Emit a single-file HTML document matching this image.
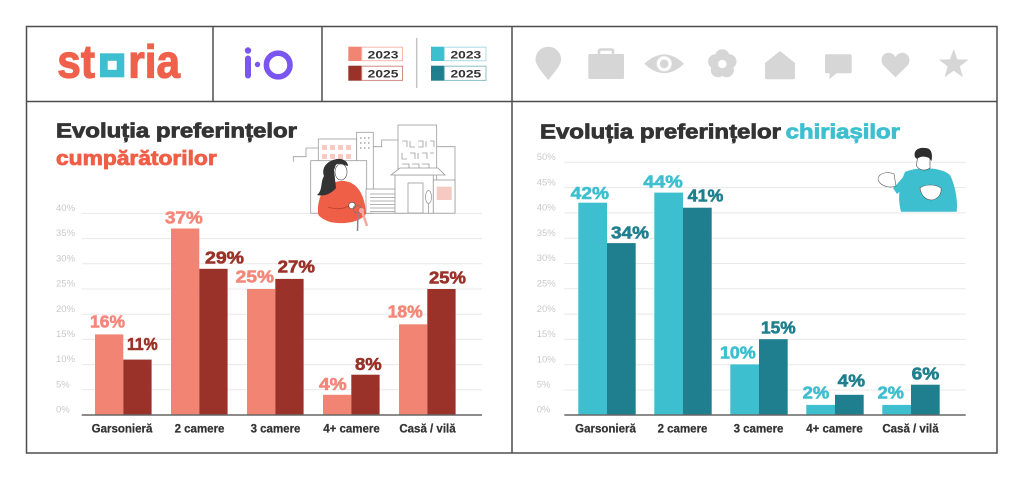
<!DOCTYPE html>
<html>
<head>
<meta charset="utf-8">
<style>
html,body{margin:0;padding:0;background:#fff;}
svg{display:block;}
text{font-family:"Liberation Sans",Arial,sans-serif;}
.t{font-size:9.5px;fill:#c9c9c9;}
.c{font-size:11.5px;font-weight:bold;fill:#333;text-anchor:middle;stroke:#333;stroke-width:0.25;}
.v{font-size:17.5px;font-weight:bold;stroke-width:0.6;paint-order:stroke;}
.ttl{font-size:20px;font-weight:bold;stroke-width:0.8;paint-order:stroke;}
</style>
</head>
<body>
<svg width="1024" height="480" viewBox="0 0 1024 480" xmlns="http://www.w3.org/2000/svg">
<rect width="1024" height="480" fill="#fff"/>

<!-- Frame -->
<g stroke="#4d4d4d" stroke-width="1.5" fill="none">
<rect x="26.5" y="26.5" width="970.5" height="426.5"/>
<line x1="26.5" y1="101.5" x2="997" y2="101.5"/>
<line x1="213" y1="26.5" x2="213" y2="101.5"/>
<line x1="322" y1="26.5" x2="322" y2="101.5"/>
<line x1="512" y1="26.5" x2="512" y2="453"/>
</g>

<!-- storia logo -->
<text x="57.3" y="77.3" font-size="46" font-weight="bold" fill="#EF614B" stroke="#EF614B" stroke-width="1.2" textLength="37.7" lengthAdjust="spacingAndGlyphs">st</text>
<rect x="100" y="53.3" width="24.3" height="24" fill="#3EBFCF"/>
<rect x="107.7" y="60.8" width="9" height="9" fill="#fff"/>
<text x="128.3" y="77.3" font-size="46" font-weight="bold" fill="#EF614B" stroke="#EF614B" stroke-width="1.2" textLength="51.7" lengthAdjust="spacingAndGlyphs">ria</text>

<!-- i·O logo -->
<g fill="#7B55F0">
<rect x="245" y="55.5" width="6" height="23" rx="3"/>
<circle cx="248" cy="50.5" r="3.2"/>
<circle cx="257.5" cy="64.5" r="2.7"/>
</g>
<circle cx="278.2" cy="65" r="11.8" fill="none" stroke="#7B55F0" stroke-width="5.6"/>

<!-- legend -->
<rect x="348.3" y="46.7" width="13.4" height="14.3" fill="#F28473"/>
<rect x="361.7" y="47.2" width="40.8" height="13.5" fill="#fff" stroke="#F5B8AE" stroke-width="1"/>
<text x="367.7" y="58.3" font-size="11" font-weight="bold" fill="#333" textLength="30.7" lengthAdjust="spacingAndGlyphs">2023</text>
<rect x="348.3" y="65.7" width="13.4" height="15" fill="#9A3229"/>
<rect x="361.7" y="66.2" width="40.8" height="14.2" fill="#fff" stroke="#D08A82" stroke-width="1"/>
<text x="367.7" y="77.3" font-size="11" font-weight="bold" fill="#333" textLength="30.7" lengthAdjust="spacingAndGlyphs">2025</text>
<line x1="416.7" y1="38" x2="416.7" y2="88" stroke="#c4c4c4" stroke-width="1.5"/>
<rect x="431" y="46.7" width="13.4" height="14.3" fill="#3EBFCF"/>
<rect x="444.4" y="47.2" width="41.6" height="13.5" fill="#fff" stroke="#A8DDE4" stroke-width="1"/>
<text x="450.5" y="58.3" font-size="11" font-weight="bold" fill="#333" textLength="30.7" lengthAdjust="spacingAndGlyphs">2023</text>
<rect x="431" y="65.7" width="13.4" height="15" fill="#1F7F8E"/>
<rect x="444.4" y="66.2" width="41.6" height="14.2" fill="#fff" stroke="#8BBFC7" stroke-width="1"/>
<text x="450.5" y="77.3" font-size="11" font-weight="bold" fill="#333" textLength="30.7" lengthAdjust="spacingAndGlyphs">2025</text>

<!-- header icons -->
<g fill="#d6d6d6">
<path d="M548.3,80 C540,70 535.5,64 535.5,59.5 A12.8,12.8 0 1 1 561.1,59.5 C561.1,64 556.6,70 548.3,80Z"/>
<rect x="588.3" y="54" width="35.7" height="25" rx="1.5"/>
<rect x="599" y="49.5" width="14" height="6" rx="1.5" fill="none" stroke="#d6d6d6" stroke-width="2.6"/>
<path d="M644.3,63.8 Q664.2,45 684,63.8 Q664.2,82.5 644.3,63.8Z"/>
<circle cx="664.2" cy="63.8" r="7.5" fill="#fff"/>
<circle cx="664.2" cy="63.8" r="4.3"/>
<circle cx="722.3" cy="56.5" r="7.3"/>
<circle cx="729.2" cy="61.5" r="7.3"/>
<circle cx="726.6" cy="70" r="7.3"/>
<circle cx="718" cy="70" r="7.3"/>
<circle cx="715.4" cy="61.5" r="7.3"/>
<circle cx="722.3" cy="64" r="4.3" fill="#fff"/>
<path d="M780,51 L795,63 L795,77.5 Q795,79.3 793,79.3 L767,79.3 Q765,79.3 765,77.5 L765,63Z"/>
<rect x="825" y="54.3" width="26.7" height="19" rx="1.5"/>
<path d="M829.5,72 L838,72 L829.5,79.3Z"/>
<path d="M895.5,77.3 L884,66 C879,61 882,52.7 888.5,52.7 C892,52.7 894.5,55 895.5,57 C896.5,55 899,52.7 902.5,52.7 C909,52.7 912,61 907,66Z"/>
<path d="M953.7,49 L957.4,59.4 L968.6,59.6 L959.8,66.4 L962.9,77.2 L953.7,70.8 L944.5,77.2 L947.6,66.4 L938.8,59.6 L950,59.4Z"/>
</g>

<!-- LEFT titles -->
<text x="56" y="137.5" class="ttl" fill="#333" stroke="#333" textLength="241" lengthAdjust="spacingAndGlyphs">Evoluția preferințelor</text>
<text x="56" y="165" class="ttl" fill="#EF5F48" stroke="#EF5F48" textLength="160.7" lengthAdjust="spacingAndGlyphs">cumpărătorilor</text>

<!-- LEFT grid -->
<g stroke="#e8e8e8" stroke-width="1">
<line x1="81.7" y1="213.4" x2="482" y2="213.4"/>
<line x1="81.7" y1="238.6" x2="482" y2="238.6"/>
<line x1="81.7" y1="263.8" x2="482" y2="263.8"/>
<line x1="81.7" y1="289" x2="482" y2="289"/>
<line x1="81.7" y1="314.2" x2="482" y2="314.2"/>
<line x1="81.7" y1="339.4" x2="482" y2="339.4"/>
<line x1="81.7" y1="364.6" x2="482" y2="364.6"/>
<line x1="81.7" y1="389.8" x2="482" y2="389.8"/>
</g>
<g>
<text x="56" y="211" class="t">40%</text>
<text x="56" y="236.2" class="t">35%</text>
<text x="56" y="261.4" class="t">30%</text>
<text x="56" y="286.6" class="t">25%</text>
<text x="56" y="311.8" class="t">20%</text>
<text x="56" y="337" class="t">15%</text>
<text x="56" y="362.2" class="t">10%</text>
<text x="56" y="387.4" class="t">5%</text>
<text x="56" y="412.6" class="t">0%</text>
</g>

<!-- LEFT illustration -->
<g stroke="#9b9b9b" stroke-width="0.8" fill="none">
<polyline points="293.3,161.7 293.3,156.7 306,156.7 306,148 318.3,148"/>
<rect x="318.3" y="139" width="38.4" height="74" fill="#fff"/>
<rect x="356.7" y="132.3" width="16.6" height="81" fill="#fff"/>
<polyline points="373.3,146.7 381.7,146.7 381.7,140 398,140"/>
<rect x="398" y="125" width="38.7" height="88" fill="#fff"/>
<polyline points="436.7,146.7 455,146.7 455,213"/>
<path d="M402,141 h5 v6 M410,141 v6 h5 M418,141 h5 v6 h-5 M426,141 v6 M430,141 h4 v6 M402,153 v6 h5 M410,153 h5 v6 M418,153 v6 M422,153 h5 v6 M430,153 h4 M402,164 h7 v4 M412,164 h7 v4 M422,164 h7 v4"/>
</g>
<g fill="#F6C9C2">
<rect x="322" y="145" width="5" height="5"/><rect x="330" y="145" width="5" height="5"/><rect x="338" y="145" width="5" height="5"/><rect x="346" y="145" width="5" height="5"/>
<rect x="322" y="154" width="5" height="5"/><rect x="330" y="154" width="5" height="5"/><rect x="338" y="154" width="5" height="5"/><rect x="346" y="154" width="5" height="5"/>
</g>
<g fill="#bbb">
<rect x="360" y="137" width="1.5" height="2"/><rect x="364" y="137" width="1.5" height="2"/><rect x="368" y="137" width="1.5" height="2"/>
<rect x="360" y="142" width="1.5" height="2"/><rect x="364" y="142" width="1.5" height="2"/><rect x="368" y="142" width="1.5" height="2"/>
<rect x="360" y="147" width="1.5" height="2"/><rect x="364" y="147" width="1.5" height="2"/><rect x="368" y="147" width="1.5" height="2"/>
</g>
<g stroke="#9b9b9b" stroke-width="0.8" fill="#fff">
<rect x="310.7" y="160.7" width="56" height="52.5"/>
<rect x="366" y="189" width="37.3" height="24.2"/>
<path d="M370,194 h29 M370,197.5 h29 M370,201 h29 M370,204.5 h29 M370,208 h29 M370,211.5 h29" fill="none"/>
<rect x="395" y="175" width="38.3" height="38.2"/>
<polygon points="391,175 400,168 438,168 445,175"/>
<rect x="408" y="183" width="15" height="30"/>
<ellipse cx="428.5" cy="197" rx="3" ry="6.5"/>
<line x1="428.5" y1="203" x2="428.5" y2="213"/>
<rect x="433.3" y="180" width="21.7" height="33.2"/>
</g>
<rect x="436.7" y="186.7" width="15" height="13.3" fill="#F6C9C2"/>
<!-- woman -->
<path d="M318,213 C317,195 326,183 340,181 C354,180 362,190 365,205 L366,214 C360,222 345,225 330,222 C322,219 318,216 318,213Z" fill="#EF5F48"/>
<path d="M338,159 C327,160 321,168 324,176 C320,183 323,190 317,195 C325,197 332,193 336,188 L334,170 Z" fill="#333"/>
<path d="M334,160 C340,157 348,160 348,166 L344,165 C340,163 336,164 334,166Z" fill="#333"/>
<ellipse cx="341" cy="172" rx="6" ry="8" fill="#fff" stroke="#444" stroke-width="0.6"/>
<path d="M328,207 C336,210 344,209 351,205" stroke="#b8402e" stroke-width="0.8" fill="none"/>
<circle cx="352" cy="205.5" r="3.3" fill="#fff" stroke="#444" stroke-width="0.6"/>
<circle cx="357" cy="209" r="4" fill="none" stroke="#777" stroke-width="0.8"/>
<path d="M358,213 L357.5,231" stroke="#888" stroke-width="1.5"/>
<path d="M362,211 L367,226" stroke="#F4A9A0" stroke-width="2.5"/>
<circle cx="361.5" cy="210.5" r="2.6" fill="#F4A9A0"/>

<!-- LEFT bars -->
<g fill="#F28473">
<rect x="95" y="334.4" width="28.3" height="80.6"/>
<rect x="171" y="228.5" width="28.3" height="186.5"/>
<rect x="247" y="289" width="28.3" height="126"/>
<rect x="323" y="394.8" width="28.3" height="20.2"/>
<rect x="399" y="324.3" width="28.3" height="90.7"/>
</g>
<g fill="#9A3229">
<rect x="123.3" y="359.6" width="28.3" height="55.4"/>
<rect x="199.3" y="268.8" width="28.3" height="146.2"/>
<rect x="275.3" y="278.9" width="28.3" height="136.1"/>
<rect x="351.3" y="374.7" width="28.3" height="40.3"/>
<rect x="427.3" y="289" width="28.3" height="126"/>
</g>
<line x1="81.7" y1="415" x2="482" y2="415" stroke="#666" stroke-width="1.5"/>

<g>
<text x="90" y="327.3" class="v" fill="#F5877A" stroke="#F5877A" textLength="35" lengthAdjust="spacingAndGlyphs">16%</text>
<text x="165" y="223.3" class="v" fill="#F5877A" stroke="#F5877A" textLength="37.7" lengthAdjust="spacingAndGlyphs">37%</text>
<text x="235.7" y="282.7" class="v" fill="#F5877A" stroke="#F5877A" textLength="38.3" lengthAdjust="spacingAndGlyphs">25%</text>
<text x="319" y="390" class="v" fill="#F5877A" stroke="#F5877A" textLength="27.7" lengthAdjust="spacingAndGlyphs">4%</text>
<text x="387.7" y="317.7" class="v" fill="#F5877A" stroke="#F5877A" textLength="35" lengthAdjust="spacingAndGlyphs">18%</text>
<text x="127" y="350" class="v" fill="#9A3229" stroke="#9A3229" textLength="30.7" lengthAdjust="spacingAndGlyphs">11%</text>
<text x="205" y="263.3" class="v" fill="#9A3229" stroke="#9A3229" textLength="39" lengthAdjust="spacingAndGlyphs">29%</text>
<text x="277.7" y="272.3" class="v" fill="#9A3229" stroke="#9A3229" textLength="37.3" lengthAdjust="spacingAndGlyphs">27%</text>
<text x="355" y="370" class="v" fill="#9A3229" stroke="#9A3229" textLength="26.7" lengthAdjust="spacingAndGlyphs">8%</text>
<text x="429" y="283.3" class="v" fill="#9A3229" stroke="#9A3229" textLength="37" lengthAdjust="spacingAndGlyphs">25%</text>
</g>

<text x="122" y="432.5" class="c">Garsonieră</text>
<text x="199.5" y="432.5" class="c">2 camere</text>
<text x="275.5" y="432.5" class="c">3 camere</text>
<text x="351.5" y="432.5" class="c">4+ camere</text>
<text x="427.5" y="432.5" class="c">Casă / vilă</text>

<!-- RIGHT title -->
<text x="540" y="138.5" class="ttl" fill="#333" stroke="#333" textLength="241" lengthAdjust="spacingAndGlyphs">Evoluția preferințelor</text>
<text x="785.7" y="138.5" class="ttl" fill="#3EBFCF" stroke="#3EBFCF" textLength="114.3" lengthAdjust="spacingAndGlyphs">chiriașilor</text>

<!-- RIGHT grid -->
<g stroke="#e8e8e8" stroke-width="1">
<line x1="564.3" y1="162.3" x2="965.7" y2="162.3"/>
<line x1="564.3" y1="187.6" x2="965.7" y2="187.6"/>
<line x1="564.3" y1="212.9" x2="965.7" y2="212.9"/>
<line x1="564.3" y1="238.2" x2="965.7" y2="238.2"/>
<line x1="564.3" y1="263.5" x2="965.7" y2="263.5"/>
<line x1="564.3" y1="288.8" x2="965.7" y2="288.8"/>
<line x1="564.3" y1="314.1" x2="965.7" y2="314.1"/>
<line x1="564.3" y1="339.4" x2="965.7" y2="339.4"/>
<line x1="564.3" y1="364.7" x2="965.7" y2="364.7"/>
<line x1="564.3" y1="390" x2="965.7" y2="390"/>
</g>
<g>
<text x="536.7" y="160" class="t">50%</text>
<text x="536.7" y="185.3" class="t">45%</text>
<text x="536.7" y="210.6" class="t">40%</text>
<text x="536.7" y="235.9" class="t">35%</text>
<text x="536.7" y="261.2" class="t">30%</text>
<text x="536.7" y="286.5" class="t">25%</text>
<text x="536.7" y="311.8" class="t">20%</text>
<text x="536.7" y="337.1" class="t">15%</text>
<text x="536.7" y="362.4" class="t">10%</text>
<text x="536.7" y="387.7" class="t">5%</text>
<text x="536.7" y="412.7" class="t">0%</text>
</g>

<!-- man illustration -->
<path d="M905,172 C915,167 940,166 950,175 C955,185 958,200 956.7,211.7 L901,211.7 C898,200 898,188 905,172Z" fill="#3EBFCF"/>
<path d="M906,174 C900,180 896,186 893,188 L897,194 C902,190 906,184 908,180Z" fill="#3EBFCF"/>
<path d="M880,175 C884,172 890,172 894,174 L896,186 C891,188 884,187 880,183 C877,180 878,177 880,175Z" fill="#fff" stroke="#555" stroke-width="0.6"/>
<path d="M916.5,166 L917.5,157 C919,153 928,152 930,157 L930,168 C926,171 920,171 916.5,166Z" fill="#fff" stroke="#444" stroke-width="0.6"/>
<path d="M915,157 C913,150 919,147 925,148 C931,148 933,153 931.5,161 L929,158 C925,156 920,156 917,159Z" fill="#2e2e2e"/>
<path d="M920,188 C925,184 935,184 941,188 C942,194 938,199 932,200 C926,200 921,196 920,188Z" fill="#fff" stroke="#555" stroke-width="0.6"/>

<!-- RIGHT bars -->
<g fill="#3EBFCF">
<rect x="578.3" y="202.7" width="28.7" height="212.3"/>
<rect x="654.3" y="192.6" width="28.7" height="222.4"/>
<rect x="730.3" y="364.4" width="28.7" height="50.6"/>
<rect x="806.3" y="404.9" width="28.7" height="10.1"/>
<rect x="882.3" y="404.9" width="28.7" height="10.1"/>
</g>
<g fill="#1F7F8E">
<rect x="607" y="243.1" width="28.7" height="171.9"/>
<rect x="683" y="207.7" width="28.7" height="207.3"/>
<rect x="759" y="339.2" width="28.7" height="75.8"/>
<rect x="835" y="394.8" width="28.7" height="20.2"/>
<rect x="911" y="384.7" width="28.7" height="30.3"/>
</g>
<line x1="564.3" y1="415" x2="965.7" y2="415" stroke="#666" stroke-width="1.5"/>

<g>
<text x="570.7" y="199" class="v" fill="#3EBFCF" stroke="#3EBFCF" textLength="38.3" lengthAdjust="spacingAndGlyphs">42%</text>
<text x="643.3" y="187.3" class="v" fill="#3EBFCF" stroke="#3EBFCF" textLength="39.4" lengthAdjust="spacingAndGlyphs">44%</text>
<text x="720" y="358.3" class="v" fill="#3EBFCF" stroke="#3EBFCF" textLength="35.7" lengthAdjust="spacingAndGlyphs">10%</text>
<text x="802.7" y="398.3" class="v" fill="#3EBFCF" stroke="#3EBFCF" textLength="26.6" lengthAdjust="spacingAndGlyphs">2%</text>
<text x="877.7" y="398.3" class="v" fill="#3EBFCF" stroke="#3EBFCF" textLength="26.3" lengthAdjust="spacingAndGlyphs">2%</text>
<text x="611" y="238.3" class="v" fill="#1F7F8E" stroke="#1F7F8E" textLength="38" lengthAdjust="spacingAndGlyphs">34%</text>
<text x="687.7" y="201.3" class="v" fill="#1F7F8E" stroke="#1F7F8E" textLength="35.6" lengthAdjust="spacingAndGlyphs">41%</text>
<text x="761" y="333.3" class="v" fill="#1F7F8E" stroke="#1F7F8E" textLength="34.7" lengthAdjust="spacingAndGlyphs">15%</text>
<text x="837.7" y="386.7" class="v" fill="#1F7F8E" stroke="#1F7F8E" textLength="27.3" lengthAdjust="spacingAndGlyphs">4%</text>
<text x="911.7" y="379.3" class="v" fill="#1F7F8E" stroke="#1F7F8E" textLength="27.6" lengthAdjust="spacingAndGlyphs">6%</text>
</g>

<text x="605.5" y="432.5" class="c">Garsonieră</text>
<text x="682.5" y="432.5" class="c">2 camere</text>
<text x="758.5" y="432.5" class="c">3 camere</text>
<text x="834.5" y="432.5" class="c">4+ camere</text>
<text x="910.5" y="432.5" class="c">Casă / vilă</text>
</svg>
</body>
</html>
